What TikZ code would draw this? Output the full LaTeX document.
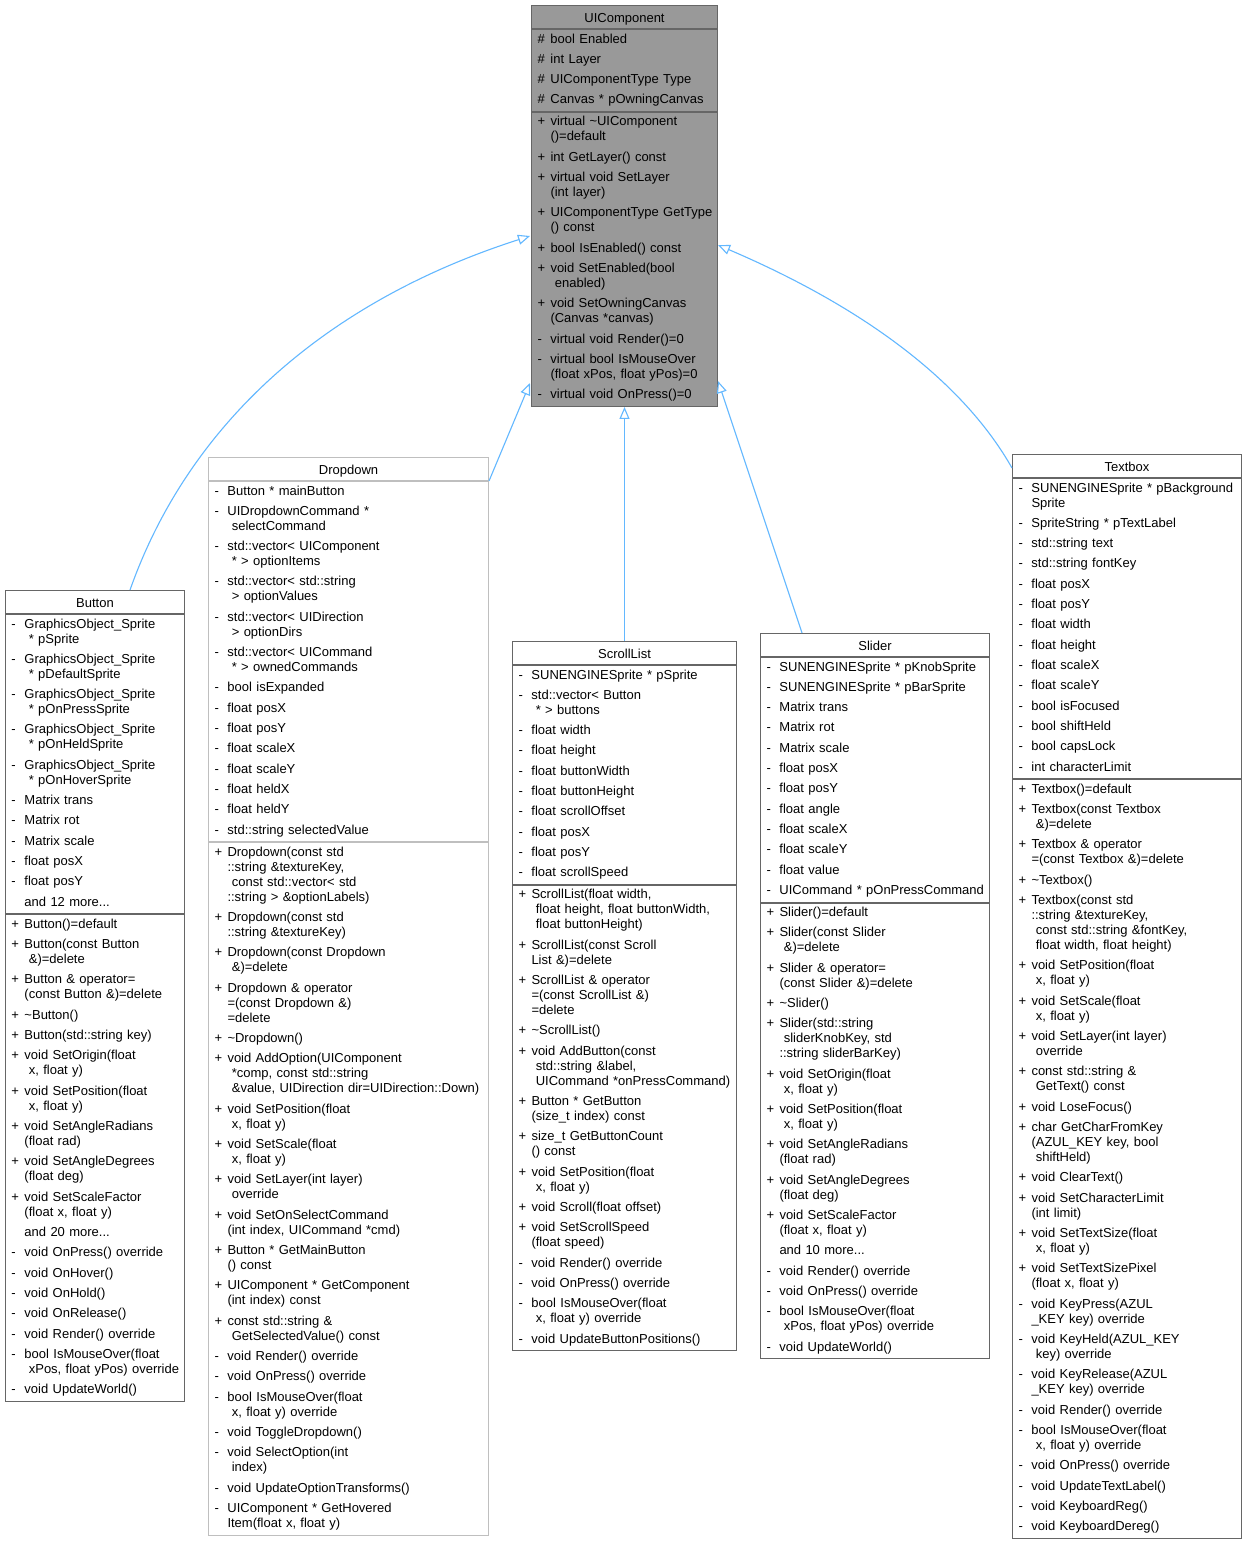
\documentclass[tikz,border=0pt]{standalone}
\usepackage{fontspec}
\setmainfont{Liberation Sans}
\usetikzlibrary{arrows.meta}
\definecolor{bd}{HTML}{666666}
\definecolor{ddbd}{HTML}{BFBFBF}
\definecolor{uicfill}{HTML}{999999}
\definecolor{edgec}{HTML}{63B8FF}
\newcommand\memfont{\fontsize{13}{15}\selectfont\setlength\parindent{0pt}}
\newcommand\Mitem[2]{\mbox{\makebox[13pt][l]{#1}#2}\strut}
\newcommand\Mcont[1]{\mbox{\hspace*{13pt}#1}\strut}
\newcommand\Mspc[1]{\mbox{\hspace*{13pt}\ #1}\strut}
\newcommand\tld{\textasciitilde}
\begin{document}
\begin{tikzpicture}[x=1pt,y=-1pt,
  ttl/.style={draw=bd, fill=white, line width=1pt, inner sep=0pt, minimum height=23pt, text height=11pt, text depth=0pt, anchor=north west, font=\memfont},
  sec/.style={draw=bd, fill=white, line width=1pt, inner xsep=6pt, inner ysep=3pt, anchor=north west, align=left, font=\memfont},
  inh/.style={draw=edgec, line width=1.1pt, -{Triangle[length=12pt,width=10pt,fill=white]}}]
\useasboundingbox (0,0) rectangle (1246,1542);
\fill[white] (0,0) rectangle (1246,1542);

% ---------------- UIComponent
\node[ttl, fill=uicfill, minimum width=186pt] (uicT) at (531,5) {UIComponent};
\node[sec, fill=uicfill, text width=174pt] (uicA) at (uicT.south west) {%
\Mitem{\#}{bool Enabled}\\[5.33pt]
\Mitem{\#}{int Layer}\\[5.33pt]
\Mitem{\#}{UIComponentType Type}\\[5.33pt]
\Mitem{\#}{Canvas * pOwningCanvas}};
\node[sec, fill=uicfill, text width=174pt] (uicM) at (uicA.south west) {%
\Mitem{+}{virtual \tld UIComponent}\\
\Mcont{()=default}\\[5.33pt]
\Mitem{+}{int GetLayer() const}\\[5.33pt]
\Mitem{+}{virtual void SetLayer}\\
\Mcont{(int layer)}\\[5.33pt]
\Mitem{+}{UIComponentType GetType}\\
\Mcont{() const}\\[5.33pt]
\Mitem{+}{bool IsEnabled() const}\\[5.33pt]
\Mitem{+}{void SetEnabled(bool}\\
\Mspc{enabled)}\\[5.33pt]
\Mitem{+}{void SetOwningCanvas}\\
\Mcont{(Canvas *canvas)}\\[5.33pt]
\Mitem{-}{virtual void Render()=0}\\[5.33pt]
\Mitem{-}{virtual bool IsMouseOver}\\
\Mcont{(float xPos, float yPos)=0}\\[5.33pt]
\Mitem{-}{virtual void OnPress()=0}};

% ---------------- Button
\node[ttl, minimum width=179pt] (btnT) at (5,590) {Button};
\node[sec, text width=167pt] (btnA) at (btnT.south west) {%
\Mitem{-}{GraphicsObject\_Sprite}\\
\Mspc{* pSprite}\\[5.33pt]
\Mitem{-}{GraphicsObject\_Sprite}\\
\Mspc{* pDefaultSprite}\\[5.33pt]
\Mitem{-}{GraphicsObject\_Sprite}\\
\Mspc{* pOnPressSprite}\\[5.33pt]
\Mitem{-}{GraphicsObject\_Sprite}\\
\Mspc{* pOnHeldSprite}\\[5.33pt]
\Mitem{-}{GraphicsObject\_Sprite}\\
\Mspc{* pOnHoverSprite}\\[5.33pt]
\Mitem{-}{Matrix trans}\\[5.33pt]
\Mitem{-}{Matrix rot}\\[5.33pt]
\Mitem{-}{Matrix scale}\\[5.33pt]
\Mitem{-}{float posX}\\[5.33pt]
\Mitem{-}{float posY}\\[5.33pt]
\Mitem{}{and 12 more...}};
\node[sec, text width=167pt] (btnM) at (btnA.south west) {%
\Mitem{+}{Button()=default}\\[5.33pt]
\Mitem{+}{Button(const Button}\\
\Mspc{\&)=delete}\\[5.33pt]
\Mitem{+}{Button \& operator=}\\
\Mcont{(const Button \&)=delete}\\[5.33pt]
\Mitem{+}{\tld Button()}\\[5.33pt]
\Mitem{+}{Button(std::string key)}\\[5.33pt]
\Mitem{+}{void SetOrigin(float}\\
\Mspc{x, float y)}\\[5.33pt]
\Mitem{+}{void SetPosition(float}\\
\Mspc{x, float y)}\\[5.33pt]
\Mitem{+}{void SetAngleRadians}\\
\Mcont{(float rad)}\\[5.33pt]
\Mitem{+}{void SetAngleDegrees}\\
\Mcont{(float deg)}\\[5.33pt]
\Mitem{+}{void SetScaleFactor}\\
\Mcont{(float x, float y)}\\[5.33pt]
\Mitem{}{and 20 more...}\\[5.33pt]
\Mitem{-}{void OnPress() override}\\[5.33pt]
\Mitem{-}{void OnHover()}\\[5.33pt]
\Mitem{-}{void OnHold()}\\[5.33pt]
\Mitem{-}{void OnRelease()}\\[5.33pt]
\Mitem{-}{void Render() override}\\[5.33pt]
\Mitem{-}{bool IsMouseOver(float}\\
\Mspc{xPos, float yPos) override}\\[5.33pt]
\Mitem{-}{void UpdateWorld()}};

% ---------------- Dropdown
\node[ttl, draw=ddbd, minimum width=280pt] (ddT) at (208,457) {Dropdown};
\node[sec, draw=ddbd, text width=268pt] (ddA) at (ddT.south west) {%
\Mitem{-}{Button * mainButton}\\[5.33pt]
\Mitem{-}{UIDropdownCommand *}\\
\Mspc{selectCommand}\\[5.33pt]
\Mitem{-}{std::vector< UIComponent}\\
\Mspc{* > optionItems}\\[5.33pt]
\Mitem{-}{std::vector< std::string}\\
\Mspc{> optionValues}\\[5.33pt]
\Mitem{-}{std::vector< UIDirection}\\
\Mspc{> optionDirs}\\[5.33pt]
\Mitem{-}{std::vector< UICommand}\\
\Mspc{* > ownedCommands}\\[5.33pt]
\Mitem{-}{bool isExpanded}\\[5.33pt]
\Mitem{-}{float posX}\\[5.33pt]
\Mitem{-}{float posY}\\[5.33pt]
\Mitem{-}{float scaleX}\\[5.33pt]
\Mitem{-}{float scaleY}\\[5.33pt]
\Mitem{-}{float heldX}\\[5.33pt]
\Mitem{-}{float heldY}\\[5.33pt]
\Mitem{-}{std::string selectedValue}};
\node[sec, draw=ddbd, text width=268pt] (ddM) at (ddA.south west) {%
\Mitem{+}{Dropdown(const std}\\
\Mcont{::string \&textureKey,}\\
\Mspc{const std::vector< std}\\
\Mcont{::string > \&optionLabels)}\\[5.33pt]
\Mitem{+}{Dropdown(const std}\\
\Mcont{::string \&textureKey)}\\[5.33pt]
\Mitem{+}{Dropdown(const Dropdown}\\
\Mspc{\&)=delete}\\[5.33pt]
\Mitem{+}{Dropdown \& operator}\\
\Mcont{=(const Dropdown \&)}\\
\Mcont{=delete}\\[5.33pt]
\Mitem{+}{\tld Dropdown()}\\[5.33pt]
\Mitem{+}{void AddOption(UIComponent}\\
\Mspc{*comp, const std::string}\\
\Mspc{\&value, UIDirection dir=UIDirection::Down)}\\[5.33pt]
\Mitem{+}{void SetPosition(float}\\
\Mspc{x, float y)}\\[5.33pt]
\Mitem{+}{void SetScale(float}\\
\Mspc{x, float y)}\\[5.33pt]
\Mitem{+}{void SetLayer(int layer)}\\
\Mspc{override}\\[5.33pt]
\Mitem{+}{void SetOnSelectCommand}\\
\Mcont{(int index, UICommand *cmd)}\\[5.33pt]
\Mitem{+}{Button * GetMainButton}\\
\Mcont{() const}\\[5.33pt]
\Mitem{+}{UIComponent * GetComponent}\\
\Mcont{(int index) const}\\[5.33pt]
\Mitem{+}{const std::string \&}\\
\Mspc{GetSelectedValue() const}\\[5.33pt]
\Mitem{-}{void Render() override}\\[5.33pt]
\Mitem{-}{void OnPress() override}\\[5.33pt]
\Mitem{-}{bool IsMouseOver(float}\\
\Mspc{x, float y) override}\\[5.33pt]
\Mitem{-}{void ToggleDropdown()}\\[5.33pt]
\Mitem{-}{void SelectOption(int}\\
\Mspc{index)}\\[5.33pt]
\Mitem{-}{void UpdateOptionTransforms()}\\[5.33pt]
\Mitem{-}{UIComponent * GetHovered}\\
\Mcont{Item(float x, float y)}};

% ---------------- ScrollList
\node[ttl, minimum width=224pt] (slT) at (512,641) {ScrollList};
\node[sec, text width=212pt] (slA) at (slT.south west) {%
\Mitem{-}{SUNENGINESprite * pSprite}\\[5.33pt]
\Mitem{-}{std::vector< Button}\\
\Mspc{* > buttons}\\[5.33pt]
\Mitem{-}{float width}\\[5.33pt]
\Mitem{-}{float height}\\[5.33pt]
\Mitem{-}{float buttonWidth}\\[5.33pt]
\Mitem{-}{float buttonHeight}\\[5.33pt]
\Mitem{-}{float scrollOffset}\\[5.33pt]
\Mitem{-}{float posX}\\[5.33pt]
\Mitem{-}{float posY}\\[5.33pt]
\Mitem{-}{float scrollSpeed}};
\node[sec, text width=212pt] (slM) at (slA.south west) {%
\Mitem{+}{ScrollList(float width,}\\
\Mspc{float height, float buttonWidth,}\\
\Mspc{float buttonHeight)}\\[5.33pt]
\Mitem{+}{ScrollList(const Scroll}\\
\Mcont{List \&)=delete}\\[5.33pt]
\Mitem{+}{ScrollList \& operator}\\
\Mcont{=(const ScrollList \&)}\\
\Mcont{=delete}\\[5.33pt]
\Mitem{+}{\tld ScrollList()}\\[5.33pt]
\Mitem{+}{void AddButton(const}\\
\Mspc{std::string \&label,}\\
\Mspc{UICommand *onPressCommand)}\\[5.33pt]
\Mitem{+}{Button * GetButton}\\
\Mcont{(size\_t index) const}\\[5.33pt]
\Mitem{+}{size\_t GetButtonCount}\\
\Mcont{() const}\\[5.33pt]
\Mitem{+}{void SetPosition(float}\\
\Mspc{x, float y)}\\[5.33pt]
\Mitem{+}{void Scroll(float offset)}\\[5.33pt]
\Mitem{+}{void SetScrollSpeed}\\
\Mcont{(float speed)}\\[5.33pt]
\Mitem{-}{void Render() override}\\[5.33pt]
\Mitem{-}{void OnPress() override}\\[5.33pt]
\Mitem{-}{bool IsMouseOver(float}\\
\Mspc{x, float y) override}\\[5.33pt]
\Mitem{-}{void UpdateButtonPositions()}};

% ---------------- Slider
\node[ttl, minimum width=229pt] (sdT) at (760,633) {Slider};
\node[sec, text width=217pt] (sdA) at (sdT.south west) {%
\Mitem{-}{SUNENGINESprite * pKnobSprite}\\[5.33pt]
\Mitem{-}{SUNENGINESprite * pBarSprite}\\[5.33pt]
\Mitem{-}{Matrix trans}\\[5.33pt]
\Mitem{-}{Matrix rot}\\[5.33pt]
\Mitem{-}{Matrix scale}\\[5.33pt]
\Mitem{-}{float posX}\\[5.33pt]
\Mitem{-}{float posY}\\[5.33pt]
\Mitem{-}{float angle}\\[5.33pt]
\Mitem{-}{float scaleX}\\[5.33pt]
\Mitem{-}{float scaleY}\\[5.33pt]
\Mitem{-}{float value}\\[5.33pt]
\Mitem{-}{UICommand * pOnPressCommand}};
\node[sec, text width=217pt] (sdM) at (sdA.south west) {%
\Mitem{+}{Slider()=default}\\[5.33pt]
\Mitem{+}{Slider(const Slider}\\
\Mspc{\&)=delete}\\[5.33pt]
\Mitem{+}{Slider \& operator=}\\
\Mcont{(const Slider \&)=delete}\\[5.33pt]
\Mitem{+}{\tld Slider()}\\[5.33pt]
\Mitem{+}{Slider(std::string}\\
\Mspc{sliderKnobKey, std}\\
\Mcont{::string sliderBarKey)}\\[5.33pt]
\Mitem{+}{void SetOrigin(float}\\
\Mspc{x, float y)}\\[5.33pt]
\Mitem{+}{void SetPosition(float}\\
\Mspc{x, float y)}\\[5.33pt]
\Mitem{+}{void SetAngleRadians}\\
\Mcont{(float rad)}\\[5.33pt]
\Mitem{+}{void SetAngleDegrees}\\
\Mcont{(float deg)}\\[5.33pt]
\Mitem{+}{void SetScaleFactor}\\
\Mcont{(float x, float y)}\\[5.33pt]
\Mitem{}{and 10 more...}\\[5.33pt]
\Mitem{-}{void Render() override}\\[5.33pt]
\Mitem{-}{void OnPress() override}\\[5.33pt]
\Mitem{-}{bool IsMouseOver(float}\\
\Mspc{xPos, float yPos) override}\\[5.33pt]
\Mitem{-}{void UpdateWorld()}};

% ---------------- Textbox
\node[ttl, minimum width=229pt] (tbT) at (1012,454) {Textbox};
\node[sec, text width=217pt] (tbA) at (tbT.south west) {%
\Mitem{-}{SUNENGINESprite * pBackground}\\
\Mcont{Sprite}\\[5.33pt]
\Mitem{-}{SpriteString * pTextLabel}\\[5.33pt]
\Mitem{-}{std::string text}\\[5.33pt]
\Mitem{-}{std::string fontKey}\\[5.33pt]
\Mitem{-}{float posX}\\[5.33pt]
\Mitem{-}{float posY}\\[5.33pt]
\Mitem{-}{float width}\\[5.33pt]
\Mitem{-}{float height}\\[5.33pt]
\Mitem{-}{float scaleX}\\[5.33pt]
\Mitem{-}{float scaleY}\\[5.33pt]
\Mitem{-}{bool isFocused}\\[5.33pt]
\Mitem{-}{bool shiftHeld}\\[5.33pt]
\Mitem{-}{bool capsLock}\\[5.33pt]
\Mitem{-}{int characterLimit}};
\node[sec, text width=217pt] (tbM) at (tbA.south west) {%
\Mitem{+}{Textbox()=default}\\[5.33pt]
\Mitem{+}{Textbox(const Textbox}\\
\Mspc{\&)=delete}\\[5.33pt]
\Mitem{+}{Textbox \& operator}\\
\Mcont{=(const Textbox \&)=delete}\\[5.33pt]
\Mitem{+}{\tld Textbox()}\\[5.33pt]
\Mitem{+}{Textbox(const std}\\
\Mcont{::string \&textureKey,}\\
\Mspc{const std::string \&fontKey,}\\
\Mspc{float width, float height)}\\[5.33pt]
\Mitem{+}{void SetPosition(float}\\
\Mspc{x, float y)}\\[5.33pt]
\Mitem{+}{void SetScale(float}\\
\Mspc{x, float y)}\\[5.33pt]
\Mitem{+}{void SetLayer(int layer)}\\
\Mspc{override}\\[5.33pt]
\Mitem{+}{const std::string \&}\\
\Mspc{GetText() const}\\[5.33pt]
\Mitem{+}{void LoseFocus()}\\[5.33pt]
\Mitem{+}{char GetCharFromKey}\\
\Mcont{(AZUL\_KEY key, bool}\\
\Mspc{shiftHeld)}\\[5.33pt]
\Mitem{+}{void ClearText()}\\[5.33pt]
\Mitem{+}{void SetCharacterLimit}\\
\Mcont{(int limit)}\\[5.33pt]
\Mitem{+}{void SetTextSize(float}\\
\Mspc{x, float y)}\\[5.33pt]
\Mitem{+}{void SetTextSizePixel}\\
\Mcont{(float x, float y)}\\[5.33pt]
\Mitem{-}{void KeyPress(AZUL}\\
\Mcont{\_KEY key) override}\\[5.33pt]
\Mitem{-}{void KeyHeld(AZUL\_KEY}\\
\Mspc{key) override}\\[5.33pt]
\Mitem{-}{void KeyRelease(AZUL}\\
\Mcont{\_KEY key) override}\\[5.33pt]
\Mitem{-}{void Render() override}\\[5.33pt]
\Mitem{-}{bool IsMouseOver(float}\\
\Mspc{x, float y) override}\\[5.33pt]
\Mitem{-}{void OnPress() override}\\[5.33pt]
\Mitem{-}{void UpdateTextLabel()}\\[5.33pt]
\Mitem{-}{void KeyboardReg()}\\[5.33pt]
\Mitem{-}{void KeyboardDereg()}};

% ---------------- inheritance connectors
\coordinate (btnE) at (130,590);
\coordinate (sdE) at (802,633);
\coordinate (tbE) at (1012,468);
\coordinate (uicIn1) at (530,236);
\coordinate (uicIn2) at (530,383);
\coordinate (uicIn3) at (718,381);
\coordinate (uicIn4) at (718,245);
\draw[inh] (btnE) .. controls (190,420) and (330,300) .. (uicIn1);
\draw[inh] (ddT.south east) -- (uicIn2);
\draw[inh] (slT.north) -- (uicM.south);
\draw[inh] (sdE) -- (uicIn3);
\draw[inh] (tbE) .. controls (965,385) and (870,310) .. (uicIn4);
\end{tikzpicture}
\end{document}
